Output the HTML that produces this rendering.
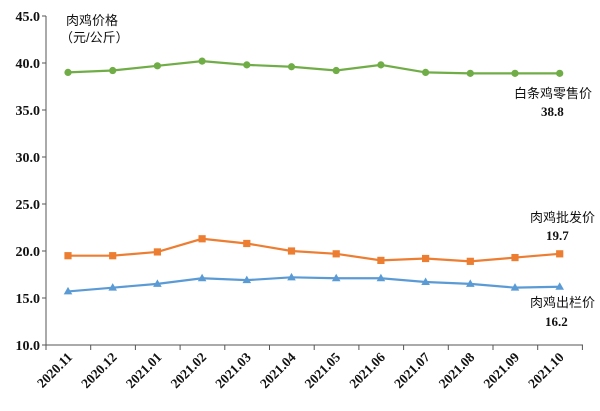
<!DOCTYPE html><html><head><meta charset="utf-8"><style>body{margin:0;background:#fff}</style></head><body>
<svg width="600" height="406" xmlns="http://www.w3.org/2000/svg" font-family="'Liberation Serif','Noto Serif CJK SC',serif">
<g stroke="#555" stroke-width="1" fill="none">
<line x1="46" y1="16" x2="46" y2="345"/>
<line x1="46" y1="345" x2="583" y2="345"/>
</g>
<g id="yt" font-size="14" font-weight="bold" text-anchor="end" fill="#111"></g>
<g id="xt" font-size="13.5" font-weight="bold" text-anchor="end" fill="#111"></g>
<g id="s"></g>
<g font-family="'Liberation Sans','Noto Sans CJK SC',sans-serif" font-size="13" fill="#111">
<text x="66" y="25">肉鸡价格</text>
<text x="60" y="42">（元/公斤）</text>
<text x="514" y="98">白条鸡零售价</text>
<text x="530" y="222">肉鸡批发价</text>
<text x="530" y="307">肉鸡出栏价</text>
</g>
<g font-size="13" font-weight="bold" fill="#111">
<text x="541" y="116">38.8</text>
<text x="546" y="240">19.7</text>
<text x="545" y="326">16.2</text>
</g>
</svg>
<script>
const ns="http://www.w3.org/2000/svg";
const Y=v=>345-(v-10)*9.4, X=i=>68+i*44.7;
function el(t,a,p){const e=document.createElementNS(ns,t);for(const k in a)e.setAttribute(k,a[k]);p.appendChild(e);return e;}
const yt=document.getElementById('yt'),xt=document.getElementById('xt'),s=document.getElementById('s');
const axis=document.querySelector('svg');
for(let v=10;v<=45;v+=5){el('text',{x:40,y:Y(v)+5},yt).textContent=v.toFixed(1);el('line',{x1:42,y1:Y(v),x2:46,y2:Y(v),stroke:'#555'},axis);}
const labs=['2020.11','2020.12','2021.01','2021.02','2021.03','2021.04','2021.05','2021.06','2021.07','2021.08','2021.09','2021.10'];
for(let i=0;i<=12;i++)el('line',{x1:46+i*44.7,y1:345,x2:46+i*44.7,y2:350,stroke:'#555'},axis);
labs.forEach((l,i)=>{el('text',{x:X(i)+5,y:358,transform:`rotate(-45 ${X(i)+5} 358)`},xt).textContent=l;});
const G=[39.0,39.2,39.7,40.2,39.8,39.6,39.2,39.8,39.0,38.9,38.9,38.9],
O=[19.5,19.5,19.9,21.3,20.8,20.0,19.7,19.0,19.2,18.9,19.3,19.7],
B=[15.7,16.1,16.5,17.1,16.9,17.2,17.1,17.1,16.7,16.5,16.1,16.2];
function line(d,c,m){el('polyline',{points:d.map((v,i)=>X(i)+','+Y(v)).join(' '),fill:'none',stroke:c,'stroke-width':2.2},s);
d.forEach((v,i)=>{const x=X(i),y=Y(v);
if(m=='c')el('circle',{cx:x,cy:y,r:3.6,fill:c},s);
else if(m=='s')el('rect',{x:x-3.6,y:y-3.6,width:7.2,height:7.2,fill:c},s);
else el('polygon',{points:`${x},${y-4.5} ${x-4.3},${y+3} ${x+4.3},${y+3}`,fill:c},s);});}
line(G,'#70ad47','c');line(O,'#ed7d31','s');line(B,'#5b9bd5','t');
</script>
</body></html>
